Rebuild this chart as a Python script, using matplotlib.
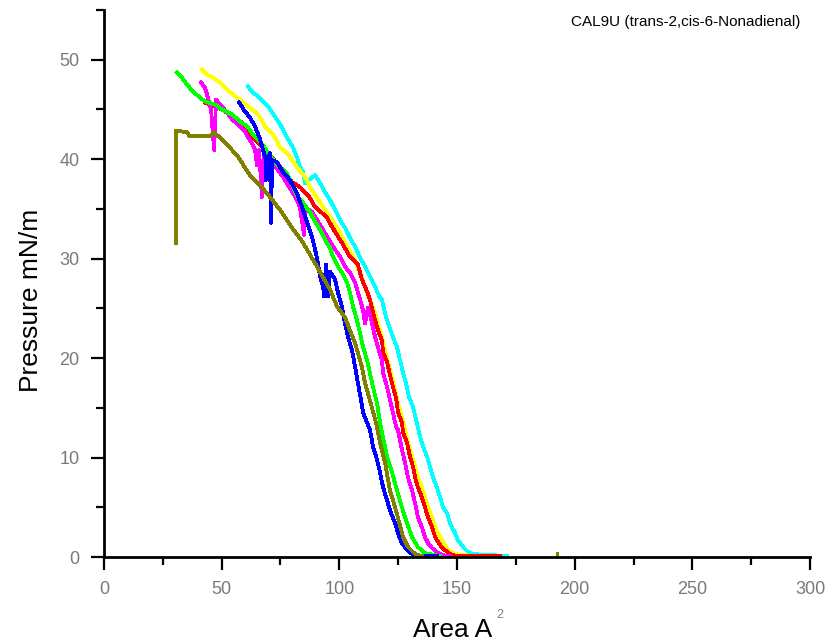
import matplotlib
matplotlib.use('Agg')
import matplotlib.pyplot as plt
from matplotlib.ticker import MultipleLocator

plt.rcParams['font.family'] = ['Liberation Sans', 'DejaVu Sans']
plt.rcParams['mathtext.default'] = 'regular'

# isotherm curves (area A^2, pressure mN/m)
olive_x = [30.6, 30.6, 35.3, 36.5, 45.0, 46.7, 50.1, 56.5, 62.0, 66.3, 70.5, 74.8, 79.0, 84.6,
           90.5, 96.0, 99.0, 102.4, 104.5, 106.7, 109.6, 110.9, 112.6, 115.6, 117.3, 119.4,
           121.5, 123.7, 127.1, 129.2, 132.2, 135.1]
olive_y = [31.6, 42.9, 42.7, 42.3, 42.3, 42.7, 42.0, 40.4, 38.4, 37.4, 36.2, 34.9, 33.4, 31.6,
           29.2, 26.9, 25.2, 24.1, 22.8, 21.5, 19.1, 17.5, 16.1, 13.5, 11.5, 9.5,
           6.7, 5.0, 2.0, 1.0, 0.3, 0.1]
olive_tail_x = [192.4, 192.4]
olive_tail_y = [0.0, 0.45]

blue_x = [57.4, 59.9, 62.0, 64.2, 66.3, 67.6, 68.8, 68.8, 69.7, 70.5, 71.0, 71.4, 73.5, 76.1,
          79.0, 82.0, 84.1, 86.7, 88.4, 89.7, 90.9, 91.8, 93.1, 93.5, 94.3, 95.2, 96.0, 98.2,
          99.4, 101.1, 102.4, 103.7, 105.4, 106.7, 107.9, 109.2, 110.1, 111.8, 113.0, 114.3,
          116.0, 117.3, 118.6, 120.3, 121.5, 123.7, 124.9, 126.6, 128.8, 130.9, 135.6, 141.5]
blue_y = [45.7, 44.8, 44.2, 43.3, 42.0, 40.9, 39.9, 37.9, 39.9, 40.6, 33.6, 39.9, 39.7, 38.7,
          37.9, 36.6, 35.2, 33.4, 32.2, 30.9, 29.6, 28.2, 27.2, 26.2, 29.4, 26.2, 28.7, 27.9,
          26.6, 25.2, 23.5, 22.1, 20.8, 19.1, 17.5, 15.8, 14.5, 13.5, 12.8, 11.1,
          9.8, 8.5, 7.0, 5.7, 4.7, 3.4, 2.4, 1.4, 0.7, 0.3, 0.1, 0.1]

green_x = [31.0, 33.1, 35.3, 37.8, 40.8, 42.9, 47.2, 50.1, 54.4, 57.8, 60.8, 63.3, 66.3, 68.4,
           70.5, 72.7, 77.8, 80.3, 82.4, 84.6, 87.5, 89.7, 91.8, 93.9, 96.0, 97.3, 99.4, 101.6,
           103.3, 104.5, 105.8, 107.5, 108.8, 110.1, 111.8, 113.0, 114.3, 116.0, 117.3, 118.1,
           120.3, 122.4, 124.5, 126.6, 128.8, 130.9, 133.4, 136.4, 142.8]
green_y = [48.7, 48.2, 47.5, 46.8, 46.2, 45.8, 45.5, 45.0, 44.5, 43.8, 43.3, 42.5, 41.8, 41.1,
           40.4, 39.6, 38.6, 37.2, 36.2, 35.6, 34.7, 33.7, 32.9, 31.9, 31.1, 30.2, 29.2, 28.4,
           27.6, 26.6, 25.2, 23.8, 22.5, 21.1, 19.8, 18.5, 17.1, 15.5, 13.5, 12.5,
           10.1, 8.5, 6.7, 5.0, 3.4, 2.0, 1.0, 0.4, 0.1]

magenta_x = [41.2, 42.9, 43.8, 44.6, 45.5, 46.8, 47.6, 48.5, 50.1, 52.3, 54.4, 56.9, 59.9, 61.2,
             62.9, 64.2, 65.0, 65.9, 67.1, 68.0, 69.3, 71.8, 73.9, 76.1, 78.2, 80.3, 82.0, 83.3,
             85.0, 85.8, 88.4, 90.5, 92.6, 94.8, 96.9, 98.2, 100.3, 102.4, 104.5, 106.7, 107.9,
             108.8, 110.1, 110.9, 112.2, 113.9, 115.2, 116.4, 118.1, 118.6, 120.3, 121.5, 122.8,
             124.1, 124.9, 126.6, 127.9, 129.2, 130.9, 132.2, 133.4, 135.1, 136.4, 137.7, 139.4,
             141.5, 143.6, 147.0]
magenta_y = [47.7, 47.2, 46.5, 45.7, 45.0, 40.9, 46.0, 45.7, 45.3, 44.7, 44.0, 43.5, 42.8, 42.2,
             41.6, 40.9, 39.4, 40.9, 36.2, 41.1, 40.6, 39.7, 38.9, 38.2, 37.4, 36.6, 35.9, 35.1,
             32.4, 35.1, 34.7, 33.9, 33.1, 32.2, 31.4, 30.9, 30.2, 29.2, 28.6, 27.6, 26.6,
             25.9, 24.8, 23.5, 25.1, 23.5, 22.1, 21.1, 19.8, 18.5, 17.1, 15.8, 14.5,
             13.1, 12.8, 10.8, 9.5, 8.0, 6.7, 5.4, 4.0, 3.0, 2.0, 1.4, 0.9,
             0.5, 0.2, 0.1]

red_x = [42.9, 50.1, 58.6, 62.0, 70.5, 78.2, 79.9, 83.3, 85.4, 87.5, 89.7, 92.6, 94.8, 96.9,
         99.0, 101.6, 104.5, 107.9, 109.6, 111.8, 113.0, 114.3, 116.4, 118.1, 118.6, 120.3,
         121.5, 122.8, 124.1, 124.9, 126.6, 127.1, 128.8, 130.0, 131.3, 132.2, 133.4, 135.1,
         136.4, 137.7, 139.4, 140.7, 142.8, 144.9, 147.0, 150.0, 168.3]
red_y = [45.7, 45.0, 43.7, 42.5, 40.4, 38.3, 37.7, 37.2, 36.7, 36.1, 35.2, 34.6, 34.1, 33.2,
         32.4, 31.4, 30.2, 29.4, 27.9, 26.7, 25.9, 24.6, 22.8, 21.8, 20.6, 19.6,
         18.3, 17.1, 16.0, 14.6, 13.5, 12.5, 11.5, 10.1, 9.1, 8.0, 7.0, 6.0,
         5.0, 4.0, 3.0, 2.0, 1.2, 0.7, 0.3, 0.1, 0.1]

yellow_x = [41.6, 43.8, 46.3, 49.3, 52.3, 54.8, 57.8, 61.2, 64.2, 66.3, 68.4, 70.5, 72.7, 74.8,
            77.8, 79.9, 82.0, 84.1, 86.3, 87.5, 89.7, 91.8, 93.9, 96.0, 98.2, 100.3, 102.4,
            104.5, 106.7, 107.9, 109.6, 110.9, 112.2, 113.0, 115.2, 116.4, 118.1, 119.4, 120.7,
            122.4, 123.7, 124.9, 126.6, 127.9, 129.2, 130.9, 132.2, 133.4, 135.1, 136.4, 137.7,
            139.4, 140.7, 141.9, 143.6, 144.9, 146.2, 148.3, 151.3, 159.8]
yellow_y = [49.0, 48.5, 48.2, 47.7, 47.0, 46.5, 46.0, 45.3, 44.8, 44.2, 43.3, 42.8, 42.2, 41.2,
            40.6, 39.9, 39.2, 38.6, 37.9, 37.2, 36.4, 35.7, 34.9, 34.2, 33.4, 32.6, 31.6,
            30.7, 29.9, 28.9, 28.1, 27.2, 26.2, 25.9, 24.5, 23.5, 22.1, 20.8, 19.5,
            18.1, 16.8, 15.5, 14.1, 12.8, 11.5, 10.1, 9.1, 8.0, 7.0, 6.0, 5.0,
            4.0, 3.0, 2.4, 1.7, 1.2, 0.7, 0.4, 0.2, 0.1]

cyan_x = [61.2, 62.9, 65.4, 67.6, 69.7, 71.4, 73.5, 76.1, 78.2, 80.3, 82.0, 83.3, 84.6, 85.4,
          89.7, 91.8, 93.9, 96.0, 98.2, 100.3, 102.4, 104.5, 106.7, 108.8, 110.9, 113.0, 115.2,
          116.9, 118.1, 119.4, 120.7, 122.8, 124.5, 125.8, 127.1, 128.3, 129.6, 131.3, 132.6,
          134.3, 135.6, 137.3, 138.5, 139.8, 141.5, 142.8, 144.1, 145.8, 147.0, 149.2, 150.4,
          152.6, 154.7, 156.8, 171.3]
cyan_y = [47.3, 46.8, 46.3, 45.8, 45.3, 44.7, 44.0, 43.0, 42.0, 41.2, 40.2, 39.2, 38.7, 37.6,
          38.4, 37.6, 36.7, 35.9, 34.9, 33.9, 33.1, 32.1, 31.2, 30.1, 29.2, 28.2, 27.2,
          26.2, 25.9, 24.5, 23.5, 22.1, 21.1, 19.8, 18.5, 17.5, 16.1, 15.1, 13.8,
          12.1, 11.1, 10.1, 9.1, 8.0, 7.0, 6.0, 5.0, 4.4, 3.4, 2.4, 1.7,
          1.0, 0.5, 0.3, 0.1]

x_ticks = [0, 50, 100, 150, 200, 250, 300]
y_ticks = [0, 10, 20, 30, 40, 50]

fig = plt.figure(figsize=(8.4, 6.43), dpi=100)
ax = fig.add_axes([0.1238, 0.1337, 0.8405, 0.8507])

lw = 2.0
ax.plot(cyan_x, cyan_y, color='#00FFFF', lw=lw, antialiased=False)
ax.plot(yellow_x, yellow_y, color='#FFFF00', lw=lw, antialiased=False)
ax.plot(red_x, red_y, color='#FF0000', lw=lw, antialiased=False)
ax.plot(magenta_x, magenta_y, color='#FF00FF', lw=lw, antialiased=False)
ax.plot(green_x, green_y, color='#00FF00', lw=lw, antialiased=False)
ax.plot(blue_x, blue_y, color='#0000FF', lw=lw, antialiased=False)
ax.plot(olive_x, olive_y, color='#808000', lw=lw, antialiased=False)
ax.plot(olive_tail_x, olive_tail_y, color='#808000', lw=lw, antialiased=False)

ax.set_xlim(0, 300)
ax.set_ylim(0, 55)
ax.set_xticks(x_ticks)
ax.set_yticks(y_ticks)
ax.xaxis.set_minor_locator(MultipleLocator(25))
ax.yaxis.set_minor_locator(MultipleLocator(5))

for side in ['top', 'right']:
    ax.spines[side].set_visible(False)
for side in ['left', 'bottom']:
    ax.spines[side].set_linewidth(2.0)

ax.tick_params(which='major', direction='out', length=9.5, width=1.6,
               labelsize=13, labelcolor='#7a7a7a', pad=8)
ax.tick_params(which='minor', direction='out', length=5.5, width=1.6)

fig.text(31 / 840, 1 - 300 / 643, 'Pressure mN/m', rotation=90, ha='center', va='center',
         fontsize=19, color='#000000')
fig.text(453 / 840, 1 - 630 / 643, 'Area A', ha='center', va='center',
         fontsize=19, color='#000000')
fig.text(500 / 840, 1 - 615 / 643, '2', ha='center', va='center',
         fontsize=9, color='#808080')
fig.text(800 / 840, 1 - 22 / 643, 'CAL9U (trans-2,cis-6-Nonadienal)', ha='right', va='center',
         fontsize=11, color='#000000')

fig.savefig('out.png', dpi=100)
